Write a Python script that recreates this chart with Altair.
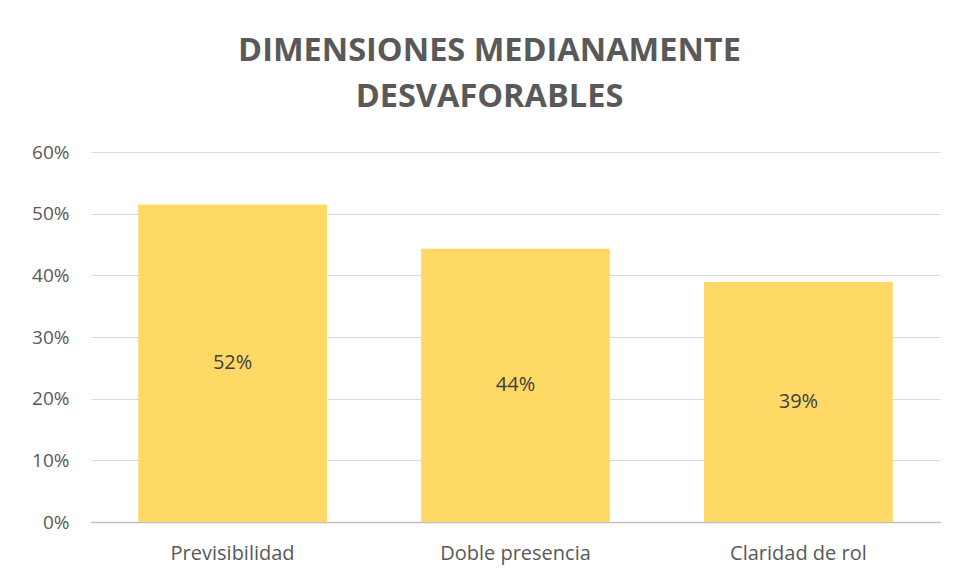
import altair as alt
import pandas as pd

categories = ["Previsibilidad", "Doble presencia", "Claridad de rol"]
values = [0.515, 0.443, 0.389]
labels = ["52%", "44%", "39%"]

df = pd.DataFrame({"cat": categories, "val": values, "lab": labels})

x_enc = alt.X("cat:N", sort=categories, title=None,
              scale=alt.Scale(paddingInner=0.333, paddingOuter=0.167),
              axis=alt.Axis(labelAngle=0, labelFontSize=20, labelColor="#595959",
                            labelFont="Open Sans", labelPadding=21, ticks=False,
                            domainColor="#bfbfbf", domainWidth=1.5))

y_enc = alt.Y("val:Q", title=None,
              scale=alt.Scale(domain=[0, 0.6]),
              axis=alt.Axis(format=".0%", values=[0, 0.1, 0.2, 0.3, 0.4, 0.5, 0.6],
                            labelFontSize=19, labelColor="#595959", labelFont="Open Sans",
                            labelPadding=22, ticks=False, domain=False,
                            gridColor="#d9d9d9", gridWidth=1.2))

bars = alt.Chart(df).mark_bar(color="#FFD966").encode(x=x_enc, y=y_enc)

text = alt.Chart(df).transform_calculate(mid="datum.val/2").mark_text(
    fontSize=20, color="#404040", font="Open Sans"
).encode(x=alt.X("cat:N", sort=categories), y=alt.Y("mid:Q"), text="lab:N")

chart = (bars + text).properties(
    width=849, height=370,
    title=alt.TitleParams(
        text=["DIMENSIONES MEDIANAMENTE", "DESVAFORABLES"],
        fontSize=32.5, font="Open Sans", fontWeight="bold", color="#595959",
        anchor="middle", offset=30, lineHeight=46, dx=-26
    ),
    padding={"left": 83, "top": 144, "right": 7, "bottom": 47},
    autosize=alt.AutoSizeParams(type="none")
).configure(background="white").configure_view(strokeWidth=0)

chart.save("out.html", embed_options={"renderer": "svg", "actions": False})
